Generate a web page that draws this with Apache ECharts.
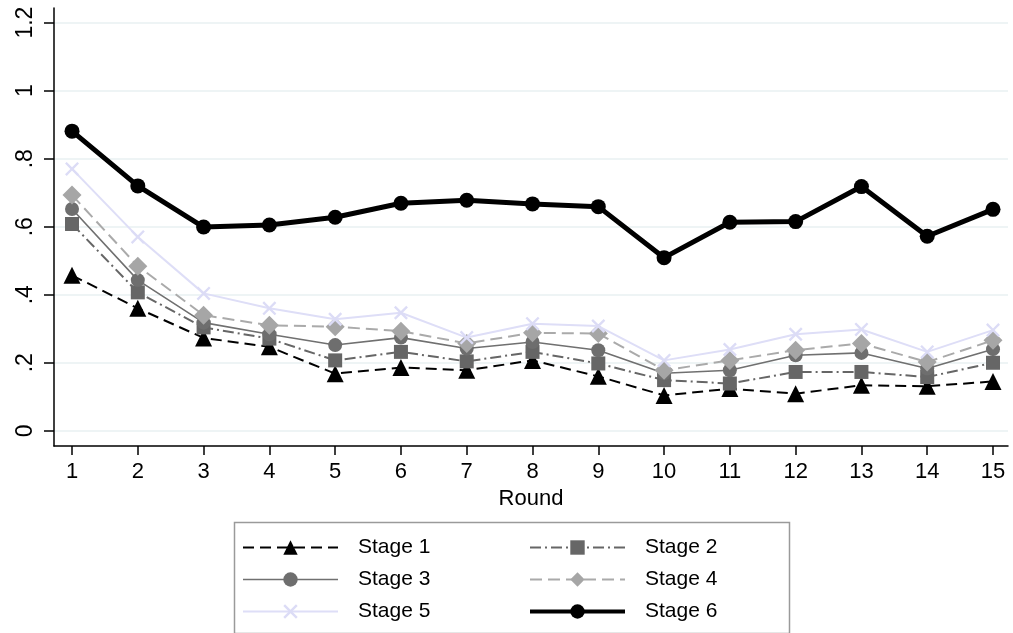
<!DOCTYPE html>
<html>
<head>
<meta charset="utf-8">
<script src="https://cdn.jsdelivr.net/npm/echarts@6/dist/echarts.min.js"></script>
<style>
html,body{margin:0;padding:0;background:#fff;}
#chart{width:1013px;height:633px;}
</style>
</head>
<body>
<div id="chart"></div>
<script>
// ---- data ----
const rounds = [1,2,3,4,5,6,7,8,9,10,11,12,13,14,15];
const stage1 = [0.457,0.360,0.273,0.247,0.168,0.186,0.178,0.207,0.160,0.104,0.124,0.109,0.134,0.131,0.145];
const stage2 = [0.608,0.407,0.304,0.271,0.207,0.232,0.204,0.232,0.198,0.149,0.139,0.173,0.173,0.158,0.200];
const stage3 = [0.652,0.443,0.318,0.284,0.252,0.274,0.242,0.261,0.237,0.169,0.178,0.222,0.229,0.183,0.240];
const stage4 = [0.693,0.484,0.340,0.310,0.306,0.293,0.257,0.288,0.286,0.178,0.207,0.237,0.257,0.202,0.266];
const stage5 = [0.770,0.570,0.404,0.360,0.328,0.347,0.274,0.315,0.308,0.207,0.239,0.284,0.298,0.232,0.296];
const stage6 = [0.881,0.720,0.599,0.605,0.628,0.669,0.678,0.667,0.659,0.509,0.613,0.615,0.718,0.572,0.651];
const seriesNames = ['Stage 1','Stage 2','Stage 3','Stage 4','Stage 5','Stage 6'];
const yTickValues = [0,0.2,0.4,0.6,0.8,1,1.2];
const yTickLabels = ['0','.2','.4','.6','.8','1','1.2'];
const xTickValues = rounds;
const xTitle = 'Round';

// ---- styles ----
const FONT = '"Liberation Sans", Arial, sans-serif';
const xSym = 'path://M0,1.2L1.2,0L5,3.8L8.8,0L10,1.2L6.2,5L10,8.8L8.8,10L5,6.2L1.2,10L0,8.8L3.8,5Z';
const styles = [
  {color:'#000000', line:{color:'#000000', width:2, type:[11,6]}, symbol:'triangle', size:17},
  {color:'#666666', line:{color:'#666666', width:2, type:[11,4,2,4]}, symbol:'rect', size:14},
  {color:'#6e6e6e', line:{color:'#707070', width:1.6, type:'solid'}, symbol:'circle', size:14},
  {color:'#a6a6a6', line:{color:'#aaaaaa', width:2, type:[12,6]}, symbol:'diamond', size:19},
  {color:'#dcdcf6', line:{color:'#dedef7', width:2, type:'solid'}, symbol:xSym, size:14},
  {color:'#000000', line:{color:'#000000', width:5, type:'solid'}, symbol:'circle', size:15}
];
const allData = [stage1,stage2,stage3,stage4,stage5,stage6];

const series = allData.map((vals, i) => ({
  name: seriesNames[i],
  type: 'line',
  data: rounds.map((r, k) => [r, vals[k]]),
  symbol: styles[i].symbol,
  symbolSize: styles[i].size,
  showAllSymbol: true,
  lineStyle: styles[i].line,
  itemStyle: {color: styles[i].color},
  emphasis: {disabled: true},
  animation: false,
  z: 2 + i
}));

function legendItem(i){
  return {name: seriesNames[i], lineStyle: {width: i === 5 ? 4 : (i === 2 ? 1.6 : 2), type: styles[i].line.type, color: styles[i].line.color}};
}
const legendCommon = {
  orient: 'vertical',
  top: 537,
  itemWidth: 95,
  itemHeight: 18,
  itemGap: 11,
  padding: 0,
  selectedMode: false,
  textStyle: {fontFamily: FONT, fontSize: 21, color: '#000', padding: [0,0,0,15]}
};

const chart = echarts.init(document.getElementById('chart'), null, {renderer: 'canvas'});
chart.setOption({
  backgroundColor: '#ffffff',
  animation: false,
  grid: {left: 54, right: 5, top: 8, bottom: 187, containLabel: false},
  xAxis: {
    type: 'value',
    min: 0.726, max: 15.228,
    name: xTitle,
    nameLocation: 'middle',
    nameGap: 38,
    nameTextStyle: {fontFamily: FONT, fontSize: 22, color: '#000'},
    axisLine: {show: true, onZero: false, lineStyle: {color: '#000', width: 1.5}},
    axisTick: {show: true, length: 9, customValues: xTickValues, lineStyle: {color: '#000', width: 1.5}},
    axisLabel: {customValues: xTickValues, margin: 15, fontFamily: FONT, fontSize: 22, color: '#000'},
    splitLine: {show: false}
  },
  yAxis: {
    type: 'value',
    min: -0.0447, max: 1.243,
    axisLine: {show: true, onZero: false, lineStyle: {color: '#000', width: 1.5}},
    axisTick: {show: true, length: 10, customValues: yTickValues, lineStyle: {color: '#000', width: 1.5}},
    axisLabel: {
      customValues: yTickValues, margin: 17, rotate: 90,
      fontFamily: FONT, fontSize: 23, color: '#000',
      formatter: v => { const k = yTickValues.findIndex(t => Math.abs(t - v) < 1e-6); return k >= 0 ? yTickLabels[k] : ''; }
    },
    splitLine: {show: true, lineStyle: {color: '#e8f1f2', width: 1.5}}
  },
  legend: [
    Object.assign({}, legendCommon, {left: 242, data: [0,2,4].map(legendItem)}),
    Object.assign({}, legendCommon, {left: 528, data: [1,3,5].map(legendItem)})
  ],
  graphic: [{
    type: 'rect', left: 232, top: 520, silent: true,
    shape: {width: 555, height: 111},
    style: {fill: 'none', stroke: '#9a9a9a', lineWidth: 1.5}
  }],
  series: series
});
</script>
</body>
</html>
